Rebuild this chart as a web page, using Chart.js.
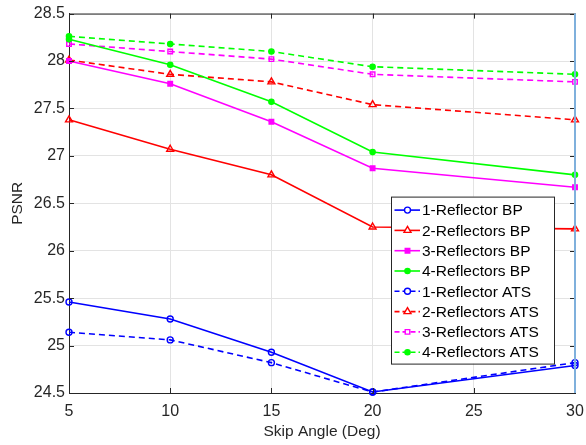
<!DOCTYPE html>
<html>
<head>
<meta charset="utf-8">
<script src="https://cdn.jsdelivr.net/npm/chart.js@4.4.0/dist/chart.umd.min.js"></script>
<style>
  html, body { margin: 0; padding: 0; background: #fff; }
</style>
</head>
<body>
<canvas id="psnrChart" width="586" height="445"></canvas>
<script>
// skip angles (deg) and PSNR values
var skipAngles = [5, 10, 15, 20, 30];
var xTicks = [5, 10, 15, 20, 25, 30];
var yTicks = [24.5, 25, 25.5, 26, 26.5, 27, 27.5, 28, 28.5];

var ref1BP  = [25.46, 25.28, 24.93, 24.51, 24.79];
var ref2BP  = [27.38, 27.07, 26.80, 26.25, 26.23];
var ref3BP  = [28.00, 27.76, 27.36, 26.87, 26.67];
var ref4BP  = [28.23, 27.96, 27.57, 27.04, 26.80];
var ref1ATS = [25.14, 25.06, 24.82, 24.51, 24.82];
var ref2ATS = [28.01, 27.86, 27.78, 27.54, 27.38];
var ref3ATS = [28.18, 28.10, 28.02, 27.86, 27.78];
var ref4ATS = [28.26, 28.18, 28.10, 27.94, 27.86];

var seriesNames = ['1-Reflector BP', '2-Reflectors BP', '3-Reflectors BP', '4-Reflectors BP',
                   '1-Reflector ATS', '2-Reflectors ATS', '3-Reflectors ATS', '4-Reflectors ATS'];

var axisColor = '#262626';
var fontFam = 'Arial, "Liberation Sans", sans-serif';

function pts(vals) {
  return vals.map(function (v, i) { return { x: skipAngles[i], y: v }; });
}

function series(name, vals, color, marker, filled, dashed, r) {
  return {
    label: name,
    data: pts(vals),
    borderColor: color,
    backgroundColor: color,
    borderWidth: 1.6,
    borderDash: dashed ? [6, 4] : [],
    pointStyle: marker,
    pointRadius: r,
    pointBorderWidth: 1.4,
    pointBorderColor: color,
    pointBackgroundColor: filled ? color : 'rgba(0,0,0,0)',
    tension: 0,
    clip: false,
    filledMarker: filled
  };
}

var datasets = [
  series(seriesNames[0], ref1BP,  '#0000ff', 'circle',   false, false, 3),
  series(seriesNames[1], ref2BP,  '#ff0000', 'triangle', false, false, 4),
  series(seriesNames[2], ref3BP,  '#ff00ff', 'rect',     true,  false, 3.2),
  series(seriesNames[3], ref4BP,  '#00ff00', 'circle',   true,  false, 2.6),
  series(seriesNames[4], ref1ATS, '#0000ff', 'circle',   false, true,  3),
  series(seriesNames[5], ref2ATS, '#ff0000', 'triangle', false, true,  4),
  series(seriesNames[6], ref3ATS, '#ff00ff', 'rect',     false, true,  3.2),
  series(seriesNames[7], ref4ATS, '#00ff00', 'circle',   true,  true,  2.6)
];

function drawMarker(ctx, ds, x, y) {
  var r = ds.pointRadius;
  ctx.save();
  ctx.setLineDash([]);
  ctx.lineWidth = ds.pointBorderWidth;
  ctx.strokeStyle = ds.borderColor;
  ctx.fillStyle = ds.filledMarker ? ds.borderColor : '#fff';
  ctx.beginPath();
  if (ds.pointStyle === 'circle') {
    ctx.arc(x, y, r, 0, Math.PI * 2);
  } else if (ds.pointStyle === 'triangle') {
    ctx.moveTo(x, y - r);
    ctx.lineTo(x + r * 0.87, y + r * 0.5);
    ctx.lineTo(x - r * 0.87, y + r * 0.5);
    ctx.closePath();
  } else {
    var s = r * 0.71;
    ctx.rect(x - s, y - s, s * 2, s * 2);
  }
  ctx.fill();
  ctx.stroke();
  ctx.restore();
}

// box, inward ticks and the in-plot legend (MATLAB style)
var matlabFrame = {
  id: 'matlabFrame',
  afterDraw: function (chart) {
    var ctx = chart.ctx, a = chart.chartArea;
    var xs = chart.scales.x, ys = chart.scales.y;
    ctx.save();
    ctx.strokeStyle = axisColor;
    ctx.lineWidth = 1;
    ctx.beginPath();
    ctx.moveTo(a.left, a.top + 0.5);
    ctx.lineTo(a.right, a.top + 0.5);
    xTicks.forEach(function (t) {
      var px = Math.round(xs.getPixelForValue(t)) + 0.5;
      ctx.moveTo(px, a.bottom); ctx.lineTo(px, a.bottom - 5);
      ctx.moveTo(px, a.top); ctx.lineTo(px, a.top + 5);
    });
    yTicks.forEach(function (t) {
      var py = Math.round(ys.getPixelForValue(t)) + 0.5;
      ctx.moveTo(a.left, py); ctx.lineTo(a.left + 5, py);
      ctx.moveTo(a.right, py); ctx.lineTo(a.right - 5, py);
    });
    ctx.stroke();
    ctx.strokeStyle = '#7fb0dc';
    ctx.lineWidth = 2;
    ctx.beginPath();
    ctx.moveTo(a.right, a.top);
    ctx.lineTo(a.right, a.bottom);
    ctx.stroke();

    // legend
    var bx = a.right - 184, by = a.top + 183, bw = 163, bh = 167;
    ctx.fillStyle = '#fff';
    ctx.fillRect(bx, by, bw, bh);
    ctx.strokeStyle = axisColor;
    ctx.lineWidth = 1;
    ctx.strokeRect(bx + 0.5, by + 0.5, bw, bh);
    ctx.font = '15.5px ' + fontFam;
    ctx.textBaseline = 'middle';
    ctx.textAlign = 'left';
    chart.data.datasets.forEach(function (ds, i) {
      var cy = by + 13.5 + i * 20.3;
      ctx.strokeStyle = ds.borderColor;
      ctx.lineWidth = ds.borderWidth;
      ctx.setLineDash(ds.borderDash.length ? [5, 3] : []);
      ctx.beginPath();
      ctx.moveTo(bx + 3.5, cy);
      ctx.lineTo(bx + 29, cy);
      ctx.stroke();
      ctx.setLineDash([]);
      drawMarker(ctx, ds, bx + 16.5, cy);
      ctx.fillStyle = '#000';
      ctx.fillText(ds.label, bx + 31, cy + 1);
    });
    ctx.restore();
  }
};

new Chart(document.getElementById('psnrChart').getContext('2d'), {
  type: 'line',
  data: { datasets: datasets },
  plugins: [matlabFrame],
  options: {
    responsive: false,
    animation: false,
    layout: { padding: { left: 0, top: 11, right: 0, bottom: 0 } },
    plugins: { legend: { display: false }, tooltip: { enabled: false } },
    scales: {
      x: {
        type: 'linear',
        min: 5, max: 30,
        afterBuildTicks: function (s) { s.ticks = xTicks.map(function (v) { return { value: v }; }); },
        afterFit: function (s) { s.height = 52; s.paddingRight = 11; s.paddingLeft = 0; },
        grid: { color: '#e3e3e3', drawTicks: false },
        border: { color: axisColor, width: 1 },
        ticks: { color: axisColor, padding: 9, font: { family: fontFam, size: 16 }, maxRotation: 0 },
        title: { display: true, text: 'Skip Angle (Deg)', color: axisColor,
                 font: { family: fontFam, size: 15.5 }, padding: { top: 0, bottom: 4 } }
      },
      y: {
        min: 24.5, max: 28.5,
        afterBuildTicks: function (s) { s.ticks = yTicks.map(function (v) { return { value: v }; }); },
        afterFit: function (s) { s.width = 69; },
        grid: { color: '#e3e3e3', drawTicks: false },
        border: { color: axisColor, width: 1 },
        ticks: { color: axisColor, padding: 4, font: { family: fontFam, size: 16 },
                 callback: function (v) { return String(v); } },
        title: { display: true, text: 'PSNR', color: axisColor,
                 font: { family: fontFam, size: 15.5 }, padding: { top: 8, bottom: 0 } }
      }
    }
  }
});
</script>
</body>
</html>
